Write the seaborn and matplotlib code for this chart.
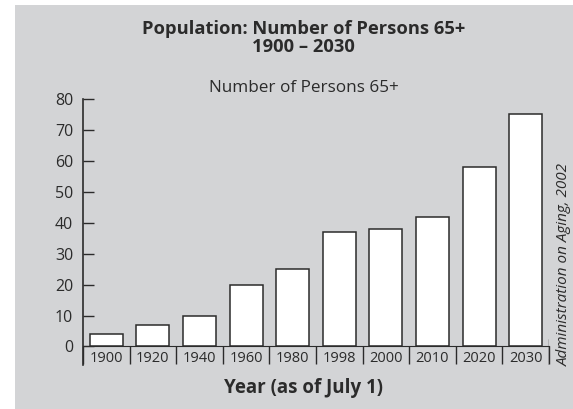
import pandas as pd
import numpy as np
import matplotlib.pyplot as plt
import seaborn as sns
from matplotlib.patches import Rectangle

years = ['1900', '1920', '1940', '1960', '1980', '1998', '2000', '2010', '2020', '2030']
persons = [4, 7, 10, 20, 25, 37, 38, 42, 58, 75]
yticks = [0, 10, 20, 30, 40, 50, 60, 70, 80]

df = pd.DataFrame({'Year': years, 'Persons': persons})

sns.set_style('white')
plt.rcParams['font.family'] = ['Open Sans', 'DejaVu Sans']
ink = '#2b2b2b'
bg = '#d3d4d6'

fig = plt.figure(figsize=(5.73, 4.09), dpi=100, facecolor='white')
fig.patches.append(Rectangle((15 / 573, 0), 1, 1 - 5 / 409, transform=fig.transFigure,
                             facecolor=bg, edgecolor='none', zorder=-10))
ax = fig.add_axes([83 / 573, 1 - 365 / 409, (549 - 83) / 573, (365 - 99) / 409])
ax.set_facecolor('none')

sns.barplot(data=df, x='Year', y='Persons', color='white', edgecolor=ink,
            linewidth=1.1, width=0.71, saturation=1, ax=ax)

ax.set_xlim(-0.5, len(years) - 0.5)
ax.set_ylim(-6, 80)
ax.set_yticks(yticks)
ax.tick_params(axis='y', left=True, direction='in', length=8, width=1, color=ink,
               labelsize=11.5, labelcolor=ink, pad=7)

# baseline and separators between year labels
ax.spines['bottom'].set_position(('data', 0))
ax.spines['bottom'].set_color(ink)
ax.spines['left'].set_color(ink)
ax.spines['left'].set_linewidth(1.2)
ax.spines['top'].set_visible(False)
ax.spines['right'].set_visible(False)
ax.set_xticks(np.arange(len(years) + 1) - 0.5, minor=True)
ax.tick_params(axis='x', which='minor', bottom=True, direction='out', length=13,
               width=1, color=ink)
ax.tick_params(axis='x', which='major', bottom=True, length=0, labelsize=10.5,
               labelcolor=ink, pad=3)
ax.axvline(len(years) - 0.5, ymin=0, ymax=8.5 / 86, color=ink, lw=1)

ax.set_xlabel('')
ax.set_ylabel('')

fig.text(0.53, 1 - 38 / 409, 'Population: Number of Persons 65+\n1900 \u2013 2030',
         ha='center', va='center', fontsize=13.2, fontweight='bold', color=ink,
         linespacing=1.0)
fig.text(0.53, 1 - 88 / 409, 'Number of Persons 65+', ha='center', va='center',
         fontsize=12.3, color=ink)
fig.text(0.53, 1 - 388 / 409, 'Year (as of July 1)', ha='center', va='center',
         fontsize=13.5, fontweight='bold', color=ink)
fig.text(564 / 573, 1 - 265 / 409, 'Administration on Aging, 2002', rotation=90,
         ha='center', va='center', fontsize=11, fontstyle='italic', color=ink)

plt.savefig('out.png', dpi=100, facecolor='white')
